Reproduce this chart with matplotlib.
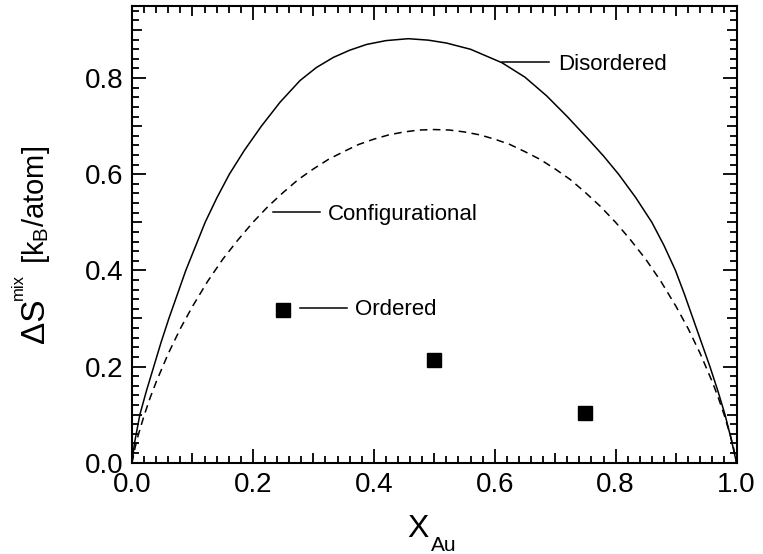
import matplotlib
matplotlib.use("Agg")
import matplotlib.pyplot as plt

plt.rcParams['font.family'] = ['Liberation Sans', 'DejaVu Sans']
plt.rcParams['mathtext.fontset'] = 'custom'
plt.rcParams['mathtext.rm'] = 'Liberation Sans'
plt.rcParams['mathtext.it'] = 'Liberation Sans'

# Disordered (solid) curve
dis_x = [0.0, 0.004, 0.013, 0.024, 0.036, 0.048, 0.061, 0.075, 0.089, 0.105,
         0.121, 0.140, 0.161, 0.186, 0.214, 0.245, 0.278, 0.305, 0.333, 0.360,
         0.388, 0.420, 0.457, 0.490, 0.520, 0.560, 0.612, 0.650, 0.686, 0.720,
         0.757, 0.780, 0.805, 0.833, 0.860, 0.880, 0.899, 0.914, 0.928, 0.942,
         0.956, 0.969, 0.981, 0.991, 1.0]
dis_y = [0.0, 0.040, 0.100, 0.150, 0.200, 0.250, 0.300, 0.350, 0.400, 0.450,
         0.500, 0.550, 0.600, 0.650, 0.700, 0.750, 0.795, 0.822, 0.843, 0.858,
         0.870, 0.878, 0.882, 0.879, 0.873, 0.860, 0.832, 0.802, 0.763, 0.720,
         0.670, 0.638, 0.600, 0.552, 0.500, 0.452, 0.400, 0.350, 0.300, 0.250,
         0.200, 0.150, 0.100, 0.050, 0.0]

# Configurational (dashed) curve
conf_x = [0.0, 0.005, 0.01, 0.02, 0.03, 0.04, 0.06, 0.08, 0.10, 0.125, 0.15,
          0.175, 0.20, 0.225, 0.25, 0.275, 0.30, 0.325, 0.35, 0.375, 0.40,
          0.425, 0.45, 0.475, 0.50, 0.525, 0.55, 0.575, 0.60, 0.625, 0.65,
          0.675, 0.70, 0.725, 0.75, 0.775, 0.80, 0.825, 0.85, 0.875, 0.90,
          0.92, 0.94, 0.96, 0.97, 0.98, 0.99, 0.995, 1.0]
conf_y = [0.0, 0.031, 0.056, 0.098, 0.135, 0.168, 0.227, 0.279, 0.325, 0.377,
          0.423, 0.463, 0.500, 0.533, 0.562, 0.589, 0.611, 0.631, 0.647, 0.662,
          0.673, 0.682, 0.688, 0.692, 0.693, 0.692, 0.688, 0.682, 0.673, 0.662,
          0.647, 0.631, 0.611, 0.589, 0.562, 0.533, 0.500, 0.463, 0.423, 0.377,
          0.325, 0.279, 0.227, 0.168, 0.135, 0.098, 0.056, 0.031, 0.0]

# Ordered structures
ord_x = [0.25, 0.50, 0.75]
ord_y = [0.318, 0.214, 0.104]

labels = ["Disordered", "Configurational", "Ordered"]
x_ticks = [0.0, 0.1, 0.2, 0.3, 0.4, 0.5, 0.6, 0.7, 0.8, 0.9, 1.0]
y_ticks = [0.0, 0.1, 0.2, 0.3, 0.4, 0.5, 0.6, 0.7, 0.8, 0.9]

W, H = 763, 554
fig = plt.figure(figsize=(W / 100, H / 100), dpi=100)
ax = fig.add_axes([132 / W, 1 - 462.7 / H, (736.5 - 132) / W, (462.7 - 6) / H])

ax.plot(dis_x, dis_y, color='black', lw=1.1)
ax.plot(conf_x, conf_y, color='black', lw=1.1, linestyle=(0, (5, 3.5)))
ax.plot(ord_x, ord_y, linestyle='none', marker='s', markersize=9.5,
        color='black')

# annotation leader lines and texts
ax.plot([0.612, 0.690], [0.833, 0.833], color='black', lw=1.1)
ax.text(0.705, 0.816, labels[0], fontsize=16, ha='left', va='baseline')
ax.plot([0.233, 0.311], [0.521, 0.521], color='black', lw=1.1)
ax.text(0.324, 0.505, labels[1], fontsize=16, ha='left', va='baseline')
ax.plot([0.278, 0.355], [0.322, 0.322], color='black', lw=1.1)
ax.text(0.369, 0.308, labels[2], fontsize=16, ha='left', va='baseline')

ax.set_xlim(0, 1)
ax.set_ylim(0, 0.95)

ax.set_xticks(x_ticks)
ax.set_yticks(y_ticks)
ax.set_xticklabels([f"{v:.1f}" if round(v * 10) % 2 == 0 else "" for v in x_ticks])
ax.set_yticklabels([f"{v:.1f}" if round(v * 10) % 2 == 0 else "" for v in y_ticks])
ax.set_xticks([i * 0.02 for i in range(51)], minor=True)
ax.set_yticks([i * 0.02 for i in range(48)], minor=True)

ax.tick_params(which='both', direction='in', top=True, right=True, width=1.3)
ax.tick_params(which='major', length=10, labelsize=20)
ax.tick_params(which='minor', length=5)
ax.tick_params(axis='x', which='major', pad=7)
ax.tick_params(axis='y', which='major', pad=6)

for tick, v in zip(ax.xaxis.get_major_ticks(), x_ticks):
    if round(v * 10) % 2 == 1:
        tick.tick1line.set_markersize(7.5)
        tick.tick2line.set_markersize(7.5)
for tick, v in zip(ax.yaxis.get_major_ticks(), y_ticks):
    if round(v * 10) % 2 == 1:
        tick.tick1line.set_markersize(7.5)
        tick.tick2line.set_markersize(7.5)

for s in ax.spines.values():
    s.set_linewidth(1.5)

# axis titles
def px(x, y):
    return x / W, 1 - y / H

fig.text(*px(407, 537), "X", fontsize=23, ha='left', va='baseline')
fig.text(*px(431, 551), "Au", fontsize=15, ha='left', va='baseline')

fig.text(*px(44, 343), "ΔS", fontsize=24, rotation=90,
         rotation_mode='anchor', ha='left', va='baseline')
fig.text(*px(23, 300), "mix", fontsize=12, rotation=90,
         rotation_mode='anchor', ha='left', va='baseline')
fig.text(*px(44, 264), r"[k$_\mathregular{B}$/atom]", fontsize=21, rotation=90,
         rotation_mode='anchor', ha='left', va='baseline')

fig.savefig("out.png", dpi=100)
